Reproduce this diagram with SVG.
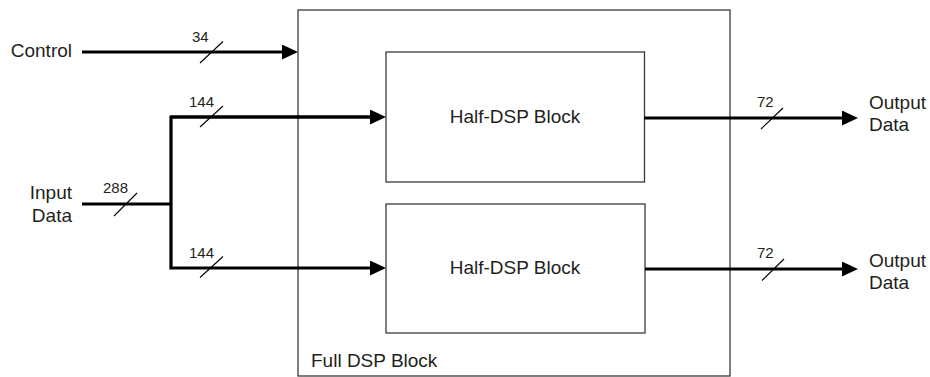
<svg xmlns="http://www.w3.org/2000/svg" width="930" height="377" viewBox="0 0 930 377">
<style>
.box{fill:#fff;stroke:#3a3a3a;stroke-width:1.3}
.lbl{font-family:"Liberation Sans",Arial,sans-serif;font-size:19px;fill:#231f20}
.num{font-family:"Liberation Sans",Arial,sans-serif;font-size:15px;fill:#231f20}
.wire{fill:none;stroke:#000;stroke-width:3.2;stroke-linejoin:miter}
.slash{stroke:#000;stroke-width:1.1}
</style>
<defs>
<marker id="arr" viewBox="0 0 16 15" refX="1" refY="7.5" markerWidth="16" markerHeight="15" markerUnits="userSpaceOnUse" orient="auto">
<path d="M0,0 L16,7.5 L0,15 z" fill="#000"/>
</marker>
</defs>
<g id="full-dsp">
<rect class="box" x="298" y="10" width="432" height="366"/>
<text class="lbl" x="311" y="367">Full DSP Block</text>
</g>
<g id="half-dsp-1">
<rect class="box" x="386" y="52" width="258.5" height="130"/>
<text class="lbl" x="515" y="122.5" text-anchor="middle">Half-DSP Block</text>
</g>
<g id="half-dsp-2">
<rect class="box" x="386" y="204" width="259" height="129"/>
<text class="lbl" x="515" y="274" text-anchor="middle">Half-DSP Block</text>
</g>
<g id="control">
<text class="lbl" x="72" y="57" text-anchor="end">Control</text>
</g>
<g id="input-data">
<text class="lbl" x="72" y="199" text-anchor="end">Input</text>
<text class="lbl" x="72" y="221.5" text-anchor="end">Data</text>
</g>
<g id="output-data-1">
<text class="lbl" x="869" y="109">Output</text>
<text class="lbl" x="869" y="131">Data</text>
</g>
<g id="output-data-2">
<text class="lbl" x="869" y="266.5">Output</text>
<text class="lbl" x="869" y="288.5">Data</text>
</g>
<g id="connectors">
<path class="wire" d="M82,52 H283" marker-end="url(#arr)"/>
<path class="wire" d="M82,204 H171"/>
<path class="wire" d="M371,117 H171 V268 H371" marker-end="url(#arr)"/>
<path class="wire" d="M171,117 H371" marker-end="url(#arr)"/>
<path class="wire" d="M644,118 H843" marker-end="url(#arr)"/>
<path class="wire" d="M645,269 H843" marker-end="url(#arr)"/>
<line class="slash" x1="200" y1="63" x2="223" y2="41.5"/>
<line class="slash" x1="200" y1="127" x2="223" y2="106"/>
<line class="slash" x1="114" y1="216" x2="137" y2="193"/>
<line class="slash" x1="200" y1="277.5" x2="223" y2="256.5"/>
<line class="slash" x1="761" y1="129" x2="783" y2="108"/>
<line class="slash" x1="762" y1="280.5" x2="784" y2="259"/>
<text class="num" x="192" y="41.5">34</text>
<text class="num" x="189" y="106.5">144</text>
<text class="num" x="103" y="193">288</text>
<text class="num" x="189" y="257.5">144</text>
<text class="num" x="757" y="106.5">72</text>
<text class="num" x="757" y="257.5">72</text>
</g>
</svg>
